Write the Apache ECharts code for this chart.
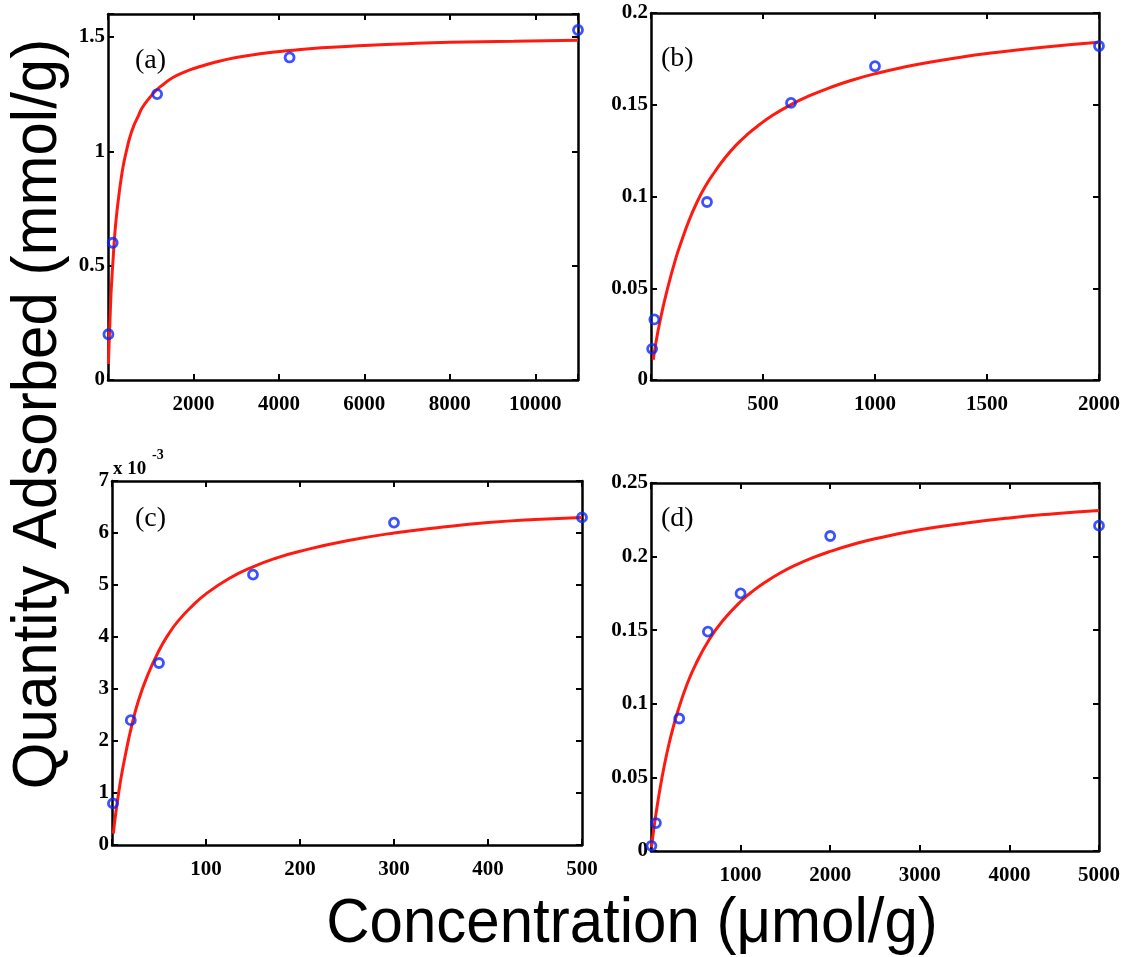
<!DOCTYPE html>
<html>
<head>
<meta charset="utf-8">
<script src="https://cdn.jsdelivr.net/npm/echarts@6/dist/echarts.min.js"></script>
<style>
html,body{margin:0;padding:0;background:#fff;}
#chart{width:1147px;height:957px;}
</style>
</head>
<body>
<div id="chart"></div>
<script>
// ---- Panel (a) ----
const aConc = [10, 110, 1150, 4250, 11000];
const aQty = [0.20, 0.60, 1.25, 1.41, 1.53];
const aFitConc = [10, 20, 40, 60, 80, 120, 160, 200, 250, 300, 360, 430, 510, 600, 700, 800, 1000, 1150, 1300, 1500, 1800, 2100, 2500, 3000, 3600, 4250, 5000, 6000, 7000, 8000, 9500, 11000];
const aFitQty = [0.07, 0.13, 0.23, 0.33, 0.41, 0.53, 0.64, 0.72, 0.80, 0.87, 0.94, 1.00, 1.06, 1.11, 1.15, 1.19, 1.24, 1.27, 1.293, 1.32, 1.347, 1.367, 1.389, 1.41, 1.427, 1.44, 1.452, 1.462, 1.470, 1.476, 1.481, 1.485];
const aXTicks = [2000, 4000, 6000, 8000, 10000];
const aYTicks = [0, 0.5, 1, 1.5];

// ---- Panel (b) ----
const bConc = [5, 15, 250, 625, 1000, 2000];
const bQty = [0.017, 0.033, 0.097, 0.151, 0.171, 0.182];
const bFitConc = [10, 20, 40, 70, 110, 140, 170, 200, 240, 285, 330, 380, 430, 485, 540, 625, 700, 800, 900, 1000, 1125, 1250, 1375, 1500, 1750, 2000];
const bFitQty = [0.011, 0.019, 0.032, 0.048, 0.066, 0.077, 0.087, 0.0955, 0.105, 0.1135, 0.121, 0.128, 0.1338, 0.1392, 0.144, 0.1501, 0.1545, 0.1594, 0.1635, 0.1669, 0.1704, 0.1733, 0.1758, 0.1779, 0.1813, 0.184];
const bXTicks = [500, 1000, 1500, 2000];
const bYTicks = [0, 0.05, 0.1, 0.15, 0.2];

// ---- Panel (c) ----
const cConc = [1, 20, 50, 150, 300, 500];
const cQty = [0.0008, 0.0024, 0.0035, 0.0052, 0.0062, 0.0063];
const cFitConc = [1.4, 3, 6, 10, 15, 20, 28, 38, 50, 60, 70, 85, 100, 125, 150, 175, 200, 250, 300, 350, 400, 450, 500];
const cFitQty = [0.00022, 0.00047, 0.00087, 0.00133, 0.00180, 0.00222, 0.00277, 0.00327, 0.00374, 0.00405, 0.00430, 0.00459, 0.00483, 0.00513, 0.00535, 0.00552, 0.00565, 0.00585, 0.00600, 0.00611, 0.00620, 0.00626, 0.00630];
const cXTicks = [100, 200, 300, 400, 500];
const cYTicks = [0, 0.001, 0.002, 0.003, 0.004, 0.005, 0.006, 0.007];

// ---- Panel (d) ----
const dConc = [5, 55, 315, 635, 1000, 2000, 5000];
const dQty = [0.0035, 0.019, 0.090, 0.149, 0.175, 0.214, 0.221];
const dFitConc = [5, 25, 50, 100, 150, 200, 250, 300, 400, 500, 650, 800, 1000, 1150, 1300, 1450, 1600, 1800, 2000, 2250, 2500, 3000, 3500, 4000, 4500, 5000];
const dFitQty = [0.0025, 0.0121, 0.0230, 0.0422, 0.0585, 0.0725, 0.0845, 0.0951, 0.1129, 0.1270, 0.1437, 0.1564, 0.1695, 0.1772, 0.1836, 0.1891, 0.1938, 0.1991, 0.2035, 0.2082, 0.2121, 0.2182, 0.2227, 0.2263, 0.2291, 0.2314];
const dXTicks = [1000, 2000, 3000, 4000, 5000];
const dYTicks = [0, 0.05, 0.1, 0.15, 0.2, 0.25];

const panelLabels = ['(a)', '(b)', '(c)', '(d)'];
const yTitle = 'Quantity Adsorbed (mmol/g)';
const xTitle = 'Concentration (\u03bcmol/g)';

const panels = [
  {conc: aConc, qty: aQty, fc: aFitConc, fq: aFitQty, xt: aXTicks, yt: aYTicks, xMax: 11000, xInt: 2000, yMax: 1.6, yInt: 0.5, yScale: 1,
   grid: {left: 108, top: 14, width: 470, height: 366}, lab: [135, 63]},
  {conc: bConc, qty: bQty, fc: bFitConc, fq: bFitQty, xt: bXTicks, yt: bYTicks, xMax: 2000, xInt: 500, yMax: 0.2, yInt: 0.05, yScale: 1,
   grid: {left: 651, top: 13, width: 448, height: 367}, lab: [661, 61]},
  {conc: cConc, qty: cQty, fc: cFitConc, fq: cFitQty, xt: cXTicks, yt: cYTicks, xMax: 500, xInt: 100, yMax: 0.007, yInt: 0.001, yScale: 1000,
   grid: {left: 112, top: 481, width: 470, height: 364}, lab: [135, 521]},
  {conc: dConc, qty: dQty, fc: dFitConc, fq: dFitQty, xt: dXTicks, yt: dYTicks, xMax: 5000, xInt: 1000, yMax: 0.25, yInt: 0.05, yScale: 1,
   grid: {left: 651, top: 483, width: 448, height: 368}, lab: [661, 521]}
];

function inList(v, list) {
  return list.some(t => Math.abs(t - v) < 1e-9 * Math.max(1, Math.abs(t)) + 1e-12);
}
function fmtNum(v) {
  return String(parseFloat(v.toPrecision(6)));
}

const lineStyle = {color: '#000', width: 2.5};
const tickStyle = {show: true, inside: true, length: 6, lineStyle: {color: '#000', width: 2}};
const labelFont = {fontFamily: 'Liberation Serif', fontWeight: 'bold', fontSize: 21, color: '#000'};

const grids = [], xAxes = [], yAxes = [], series = [], graphics = [];
panels.forEach((p, i) => {
  grids.push(Object.assign({outerBoundsMode: 'none', containLabel: false}, p.grid));
  xAxes.push({type: 'value', gridIndex: i, position: 'bottom', min: 0, max: p.xMax, interval: p.xInt,
    axisLine: {show: true, onZero: false, lineStyle: lineStyle}, axisTick: tickStyle, splitLine: {show: false},
    axisLabel: Object.assign({margin: 14, showMinLabel: true, showMaxLabel: true,
      formatter: v => inList(v, p.xt) ? fmtNum(v) : ''}, labelFont)});
  xAxes.push({type: 'value', gridIndex: i, position: 'top', min: 0, max: p.xMax, interval: p.xInt,
    axisLine: {show: true, onZero: false, lineStyle: lineStyle}, axisTick: tickStyle, splitLine: {show: false},
    axisLabel: {show: false}});
  yAxes.push({type: 'value', gridIndex: i, position: 'left', min: 0, max: p.yMax, interval: p.yInt,
    axisLine: {show: true, onZero: false, lineStyle: lineStyle}, axisTick: tickStyle, splitLine: {show: false},
    axisLabel: Object.assign({margin: 3, showMinLabel: true, showMaxLabel: true,
      formatter: v => inList(v, p.yt) ? fmtNum(v * p.yScale) : ''}, labelFont)});
  yAxes.push({type: 'value', gridIndex: i, position: 'right', min: 0, max: p.yMax, interval: p.yInt,
    axisLine: {show: true, onZero: false, lineStyle: lineStyle}, axisTick: tickStyle, splitLine: {show: false},
    axisLabel: {show: false}});

  series.push({type: 'line', xAxisIndex: i * 2, yAxisIndex: i * 2, data: p.fc.map((c, k) => [c, p.fq[k]]),
    smooth: 0.5, showSymbol: false, symbol: 'none', clip: true,
    lineStyle: {color: '#ff1a10', width: 3}, z: 3, silent: true});
  series.push({type: 'scatter', xAxisIndex: i * 2, yAxisIndex: i * 2, data: p.conc.map((c, k) => [c, p.qty[k]]),
    symbol: 'circle', symbolSize: 9, clip: false,
    itemStyle: {color: 'rgba(0,0,0,0)', borderColor: '#0a28ff', borderWidth: 2.8}, z: 4, silent: true});

  graphics.push({type: 'text', left: p.lab[0], top: p.lab[1] - 16,
    style: {text: panelLabels[i], fontFamily: 'Liberation Serif', fontSize: 28, fill: '#000'}});
});

graphics.push({type: 'text', x: 113, y: 469,
  style: {text: 'x 10', fontFamily: 'Liberation Serif', fontWeight: 'bold', fontSize: 19, fill: '#000', verticalAlign: 'middle'}});
graphics.push({type: 'text', x: 152, y: 455,
  style: {text: '-3', fontFamily: 'Liberation Serif', fontWeight: 'bold', fontSize: 14, fill: '#000', verticalAlign: 'middle'}});

graphics.push({type: 'text', x: 38, y: 414, rotation: Math.PI / 2, scaleY: 1.06,
  style: {text: yTitle, fontFamily: 'Liberation Sans', fontSize: 60, fill: '#000', align: 'center', verticalAlign: 'middle'}});
graphics.push({type: 'text', x: 632, y: 924, scaleY: 1.06,
  style: {text: xTitle, fontFamily: 'Liberation Sans', fontSize: 60, fill: '#000', align: 'center', verticalAlign: 'middle'}});

const chart = echarts.init(document.getElementById('chart'), null, {renderer: 'canvas'});
chart.setOption({
  animation: false,
  backgroundColor: '#fff',
  grid: grids,
  xAxis: xAxes,
  yAxis: yAxes,
  series: series,
  graphic: graphics
});
</script>
</body>
</html>
